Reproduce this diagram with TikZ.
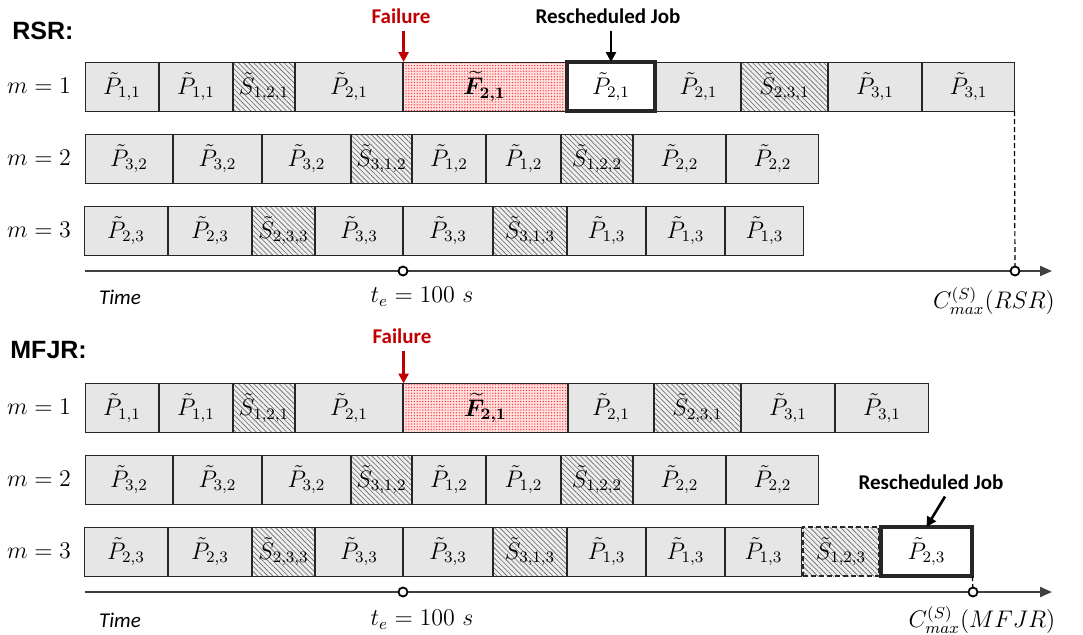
\documentclass[tikz,border=0pt]{standalone}
\usepackage{amsmath, amssymb}
\usepackage{fontspec}
\newfontfamily\calfont{Carlito}
\newfontfamily\arialfont{Liberation Sans}
\usetikzlibrary{arrows.meta, patterns.meta}

\definecolor{boxgray}{HTML}{E6E6E6}
\definecolor{hatchbg}{HTML}{EEEEEE}
\definecolor{failred}{HTML}{C00000}
\definecolor{axisgray}{HTML}{404040}

\newcommand{\Pt}[1]{\tilde{P}_{#1}}
\newcommand{\St}[1]{\tilde{S}_{#1}}
\newcommand{\Ft}[1]{\boldsymbol{\widetilde{F}_{#1}}}

\tikzset{
  every node/.style={font=\fontsize{11.5}{13}\selectfont},
  box/.style={draw=black!85, line width=0.5pt, minimum height=24.5pt, inner sep=0pt, outer sep=0pt,
    font=\fontsize{12}{14}\selectfont},
  job/.style={box, fill=boxgray},
  setup/.style={box, preaction={fill=hatchbg}, pattern={Lines[angle=-45,distance=1.8pt,line width=0.3pt]}, pattern color=black!60},
  fail/.style={box, preaction={fill=red!12}, pattern={Dots[distance=1.4pt,radius=0.35pt]}, pattern color=red!80},
  resched/.style={box, fill=white, line width=2pt},
  moved/.style={setup, line width=1.1pt, dash pattern=on 2.5pt off 1.5pt},
  machine/.style={font=\fontsize{12.5}{14}\selectfont},
  tag/.style={font=\calfont\bfseries\fontsize{10.5}{12}\selectfont},
  title/.style={font=\arialfont\bfseries\fontsize{12.5}{14}\selectfont, anchor=west, inner sep=0pt},
  pointer/.style={line width=1.3pt, -{Triangle[length=5pt,width=5pt]}},
  axis/.style={draw=axisgray, line width=1pt, -{Triangle[length=6pt,width=5pt]}},
  dot/.style={circle, draw=black, line width=0.9pt, fill=white, inner sep=0pt, minimum size=4.5pt},
  timetext/.style={font=\calfont\itshape\fontsize{10.5}{12}\selectfont}
}

\begin{document}
\begin{tikzpicture}[x=0.5pt, y=-0.5pt]
  \useasboundingbox (0,0) rectangle (1083,634);

  % ---- RSR ----
  \node[title] (rsrTitle) at (12,31) {RSR:};
  \node[machine] (rsrM1) at (39,86) {$m = 1$};
  \node[machine] (rsrM2) at (39,158) {$m = 2$};
  \node[machine] (rsrM3) at (39,230) {$m = 3$};

  % machine rows
  \foreach \a/\b/\s/\l [count=\i] in {85/159/job/\Pt{1,1}, 159/233/job/\Pt{1,1}, 233/295/setup/\St{1,2,1},
      295/403/job/\Pt{2,1}, 403/566/fail/\Ft{2,1}, 566/656/resched/\Pt{2,1}, 656/741/job/\Pt{2,1},
      741/828/setup/\St{2,3,1}, 828/922/job/\Pt{3,1}, 922/1015/job/\Pt{3,1}}
    \node[\s, minimum width={(\b-\a)*0.5pt-0.6pt}] (rsr1-\i) at ({(\a+\b)/2},86.5) {$\l$};
  \foreach \a/\b/\s/\l [count=\i] in {85/173/job/\Pt{3,2}, 173/262/job/\Pt{3,2}, 262/351/job/\Pt{3,2},
      351/412/setup/\St{3,1,2}, 412/486/job/\Pt{1,2}, 486/561/job/\Pt{1,2}, 561/633/setup/\St{1,2,2},
      633/726/job/\Pt{2,2}, 726/819/job/\Pt{2,2}}
    \node[\s, minimum width={(\b-\a)*0.5pt-0.6pt}] (rsr2-\i) at ({(\a+\b)/2},158.5) {$\l$};
  \foreach \a/\b/\s/\l [count=\i] in {84/168/job/\Pt{2,3}, 168/252/job/\Pt{2,3}, 252/315/setup/\St{2,3,3},
      315/403/job/\Pt{3,3}, 403/493/job/\Pt{3,3}, 493/567/setup/\St{3,1,3}, 567/646/job/\Pt{1,3},
      646/725/job/\Pt{1,3}, 725/804/job/\Pt{1,3}}
    \node[\s, minimum width={(\b-\a)*0.5pt-0.6pt}] (rsr3-\i) at ({(\a+\b)/2},230.5) {$\l$};

  % failure and rescheduled job
  \node[tag, text=failred] (rsrFail) at (401,16) {Failure};
  \draw[pointer, failred] (rsrFail.south -| rsr1-5.north west) -- (rsr1-5.north west);
  \node[tag] (rsrResch) at (608,16) {Rescheduled Job};
  \draw[pointer] (rsrResch.south -| rsr1-6.north) -- (rsr1-6.north);

  % time axis
  \coordinate (rsrAx0) at (85,271);
  \coordinate (rsrAx1) at (1052,271);
  \coordinate (rsrTe) at (403,271);
  \coordinate (rsrCm) at (1015,271);
  \draw[axis] (rsrAx0) -- (rsrAx1);
  \draw[line width=0.6pt, dash pattern=on 2.5pt off 1.5pt] (rsr1-10.south east) -- (rsrCm);
  \node[dot] (rsrTeDot) at (rsrTe) {};
  \node[dot] (rsrCmDot) at (rsrCm) {};
  \node[timetext] (rsrTime) at (120,297) {Time};
  \node (rsrTeText) at (422,297) {$t_e = 100\ s$};
  \node (rsrCmText) at (994,301) {$C_{max}^{(S)}(RSR)$};

  % ---- MFJR ----
  \node[title] (mfjrTitle) at (10,350) {MFJR:};
  \node[machine] (mfjrM1) at (39,407) {$m = 1$};
  \node[machine] (mfjrM2) at (39,479) {$m = 2$};
  \node[machine] (mfjrM3) at (39,551) {$m = 3$};

  % machine rows
  \foreach \a/\b/\s/\l [count=\i] in {85/159/job/\Pt{1,1}, 159/233/job/\Pt{1,1}, 233/295/setup/\St{1,2,1},
      295/403/job/\Pt{2,1}, 403/568/fail/\Ft{2,1}, 568/654/job/\Pt{2,1}, 654/741/setup/\St{2,3,1},
      741/835/job/\Pt{3,1}, 835/929/job/\Pt{3,1}}
    \node[\s, minimum width={(\b-\a)*0.5pt-0.6pt}] (mfjr1-\i) at ({(\a+\b)/2},408) {$\l$};
  \foreach \a/\b/\s/\l [count=\i] in {85/173/job/\Pt{3,2}, 173/262/job/\Pt{3,2}, 262/351/job/\Pt{3,2},
      351/412/setup/\St{3,1,2}, 412/486/job/\Pt{1,2}, 486/561/job/\Pt{1,2}, 561/633/setup/\St{1,2,2},
      633/726/job/\Pt{2,2}, 726/819/job/\Pt{2,2}}
    \node[\s, minimum width={(\b-\a)*0.5pt-0.6pt}] (mfjr2-\i) at ({(\a+\b)/2},479.5) {$\l$};
  \foreach \a/\b/\s/\l [count=\i] in {84/168/job/\Pt{2,3}, 168/252/job/\Pt{2,3}, 252/315/setup/\St{2,3,3},
      315/403/job/\Pt{3,3}, 403/493/job/\Pt{3,3}, 493/567/setup/\St{3,1,3}, 567/646/job/\Pt{1,3},
      646/725/job/\Pt{1,3}, 725/802/job/\Pt{1,3}, 802/880/moved/\St{1,2,3}, 880/973/resched/\Pt{2,3}}
    \node[\s, minimum width={(\b-\a)*0.5pt-0.6pt}] (mfjr3-\i) at ({(\a+\b)/2},551.5) {$\l$};

  % failure and rescheduled job
  \node[tag, text=failred] (mfjrFail) at (402,336) {Failure};
  \draw[pointer, failred] (mfjrFail.south -| mfjr1-5.north west) -- (mfjr1-5.north west);
  \node[tag] (mfjrResch) at (931,482) {Rescheduled Job};
  \draw[pointer] ([xshift=7pt]mfjrResch.south) -- (mfjr3-11.north);

  % time axis
  \coordinate (mfjrAx0) at (85,592);
  \coordinate (mfjrAx1) at (1052,592);
  \coordinate (mfjrTe) at (403,592);
  \coordinate (mfjrCm) at (973,592);
  \draw[axis] (mfjrAx0) -- (mfjrAx1);
  \draw[line width=0.6pt, dash pattern=on 2.5pt off 1.5pt] (mfjr3-11.south east) -- (mfjrCm);
  \node[dot] (mfjrTeDot) at (mfjrTe) {};
  \node[dot] (mfjrCmDot) at (mfjrCm) {};
  \node[timetext] (mfjrTime) at (120,620) {Time};
  \node (mfjrTeText) at (422,620) {$t_e = 100\ s$};
  \node (mfjrCmText) at (982,620) {$C_{max}^{(S)}(MFJR)$};
\end{tikzpicture}
\end{document}
